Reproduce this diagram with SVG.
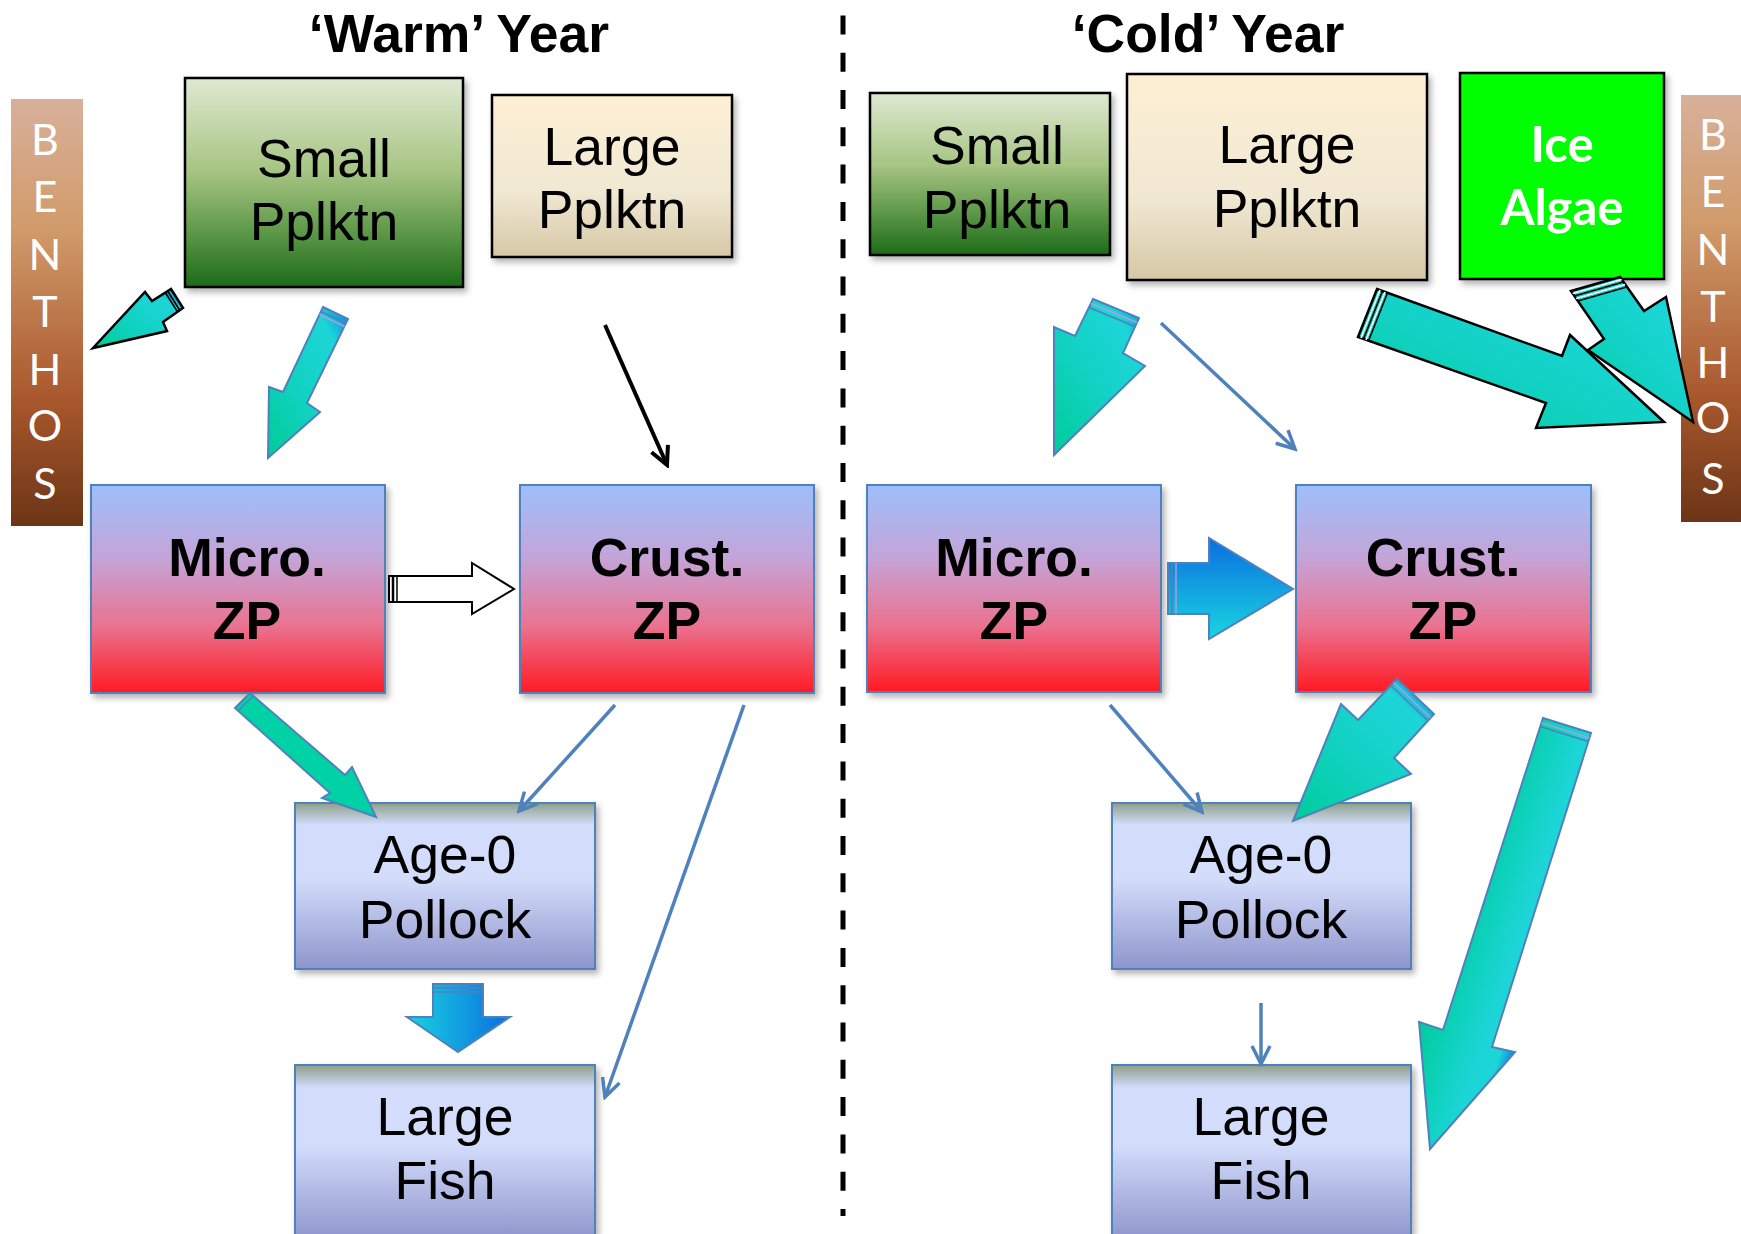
<svg xmlns="http://www.w3.org/2000/svg" width="1741" height="1234" viewBox="0 0 1741 1234">
<style>
.t{font-family:"Liberation Sans",Arial,sans-serif;font-size:53.5px;fill:#000;text-anchor:middle}
.b{font-weight:bold}
.title{font-family:"Liberation Sans",Arial,sans-serif;font-size:53.5px;font-weight:bold;text-anchor:middle;fill:#000}
.ben{font-family:Lato,"Open Sans",sans-serif;font-size:43px;fill:#fff;text-anchor:middle}
.ice{font-family:Lato,"Open Sans",sans-serif;font-size:49px;font-weight:bold;fill:#fff;text-anchor:middle}
.bk{stroke:#000;stroke-width:2.5}
.bl{stroke:#4f81bd;stroke-width:2}
.thin{fill:none;stroke:#4f81bd;stroke-width:3.5}
.arrB{stroke:#4f81bd;stroke-width:2;stroke-linejoin:miter}
.arrK{stroke:#000;stroke-width:2.5;stroke-linejoin:miter}
.stw{stroke:#fff;stroke-width:1.6}
.stk{stroke:#000;stroke-width:1.6}
.stb{stroke:#4f81bd;stroke-width:1.6}
.stp{stroke:#b0a0d8;stroke-width:1.4}
</style>
<defs>
<linearGradient id="smallG" x1="0" y1="0" x2="0" y2="1">
<stop offset="0" stop-color="#dfe9d2"/><stop offset="0.45" stop-color="#a6c482"/><stop offset="0.75" stop-color="#5a9646"/><stop offset="1" stop-color="#1c6b18"/>
</linearGradient>
<linearGradient id="largeG" x1="0" y1="0" x2="0" y2="1">
<stop offset="0" stop-color="#fdefd4"/><stop offset="0.6" stop-color="#f1e8d3"/><stop offset="1" stop-color="#d6c8a5"/>
</linearGradient>
<linearGradient id="zpG" x1="0" y1="0" x2="0" y2="1">
<stop offset="0" stop-color="#9dbffb"/><stop offset="0.35" stop-color="#c4a4d8"/><stop offset="0.68" stop-color="#ea7290"/><stop offset="1" stop-color="#ff1a22"/>
</linearGradient>
<linearGradient id="fishG" x1="0" y1="0" x2="0" y2="1">
<stop offset="0" stop-color="#8e9f88"/><stop offset="0.13" stop-color="#d2dcfb"/><stop offset="0.45" stop-color="#d3ddfb"/><stop offset="1" stop-color="#8f95cc"/>
</linearGradient>
<linearGradient id="benG" x1="0" y1="0" x2="0" y2="1">
<stop offset="0" stop-color="#d8b09a"/><stop offset="0.3" stop-color="#d19b6b"/><stop offset="0.7" stop-color="#a9582d"/><stop offset="1" stop-color="#6c3516"/>
</linearGradient>
<linearGradient id="cyG" x1="0" y1="1" x2="1" y2="0">
<stop offset="0" stop-color="#00cc99"/><stop offset="0.45" stop-color="#12d2c4"/><stop offset="0.8" stop-color="#1dd5d8"/><stop offset="1" stop-color="#0a80e0"/>
</linearGradient>
<linearGradient id="cyLong" gradientUnits="userSpaceOnUse" x1="1419" y1="1022" x2="1515" y2="1053">
<stop offset="0" stop-color="#00cc99"/><stop offset="0.4" stop-color="#10d2c0"/><stop offset="0.7" stop-color="#1dd5d8"/><stop offset="0.86" stop-color="#1dd5d8"/><stop offset="1" stop-color="#0a80e0"/>
</linearGradient>
<linearGradient id="blueH" x1="0" y1="0" x2="1" y2="0">
<stop offset="0" stop-color="#1ad2e0"/><stop offset="1" stop-color="#0a6ee0"/>
</linearGradient>
<linearGradient id="blueV" x1="0" y1="0" x2="0" y2="1">
<stop offset="0" stop-color="#0a6ee0"/><stop offset="1" stop-color="#1ad5e0"/>
</linearGradient>
<filter id="sh" x="-10%" y="-10%" width="130%" height="130%">
<feDropShadow dx="3" dy="4" stdDeviation="3" flood-color="#000" flood-opacity="0.3"/>
</filter>
<marker id="ahBlue" markerUnits="userSpaceOnUse" viewBox="0 0 24 24" markerWidth="24" markerHeight="24" refX="21" refY="12" orient="auto">
<path d="M3,3 L21,12 L3,21" fill="none" stroke="#4f81bd" stroke-width="3.5"/>
</marker>
<marker id="ahBlack" markerUnits="userSpaceOnUse" viewBox="0 0 24 24" markerWidth="24" markerHeight="24" refX="21" refY="12" orient="auto">
<path d="M3,3 L21,12 L3,21" fill="none" stroke="#000" stroke-width="4"/>
</marker>
</defs>
<rect width="1741" height="1234" fill="#fff"/>

<g id="titles">
<text class="title" x="459" y="52">‘Warm’ Year</text>
<text class="title" x="1208" y="52">‘Cold’ Year</text>
</g>

<line id="divider" x1="843" y1="0" x2="843" y2="1216" stroke="#000" stroke-width="5" stroke-dasharray="19 18.3" stroke-dashoffset="21.9"/>

<g id="warm-benthos">
<rect x="11" y="99" width="72" height="427" fill="url(#benG)"/>
<text class="ben" x="45" y="155">B</text><text class="ben" x="45" y="212">E</text><text class="ben" x="45" y="270">N</text><text class="ben" x="45" y="327">T</text><text class="ben" x="45" y="385">H</text><text class="ben" x="45" y="441">O</text><text class="ben" x="45" y="499">S</text>
</g>
<g id="warm-small-pplktn" filter="url(#sh)">
<rect x="185" y="78" width="278" height="209" fill="url(#smallG)" class="bk"/>
<text class="t" x="324" y="177">Small</text><text class="t" x="324" y="240">Pplktn</text>
</g>
<g id="warm-large-pplktn" filter="url(#sh)">
<rect x="492" y="95" width="240" height="162" fill="url(#largeG)" class="bk"/>
<text class="t" x="612" y="165">Large</text><text class="t" x="612" y="228">Pplktn</text>
</g>
<g id="warm-micro-zp" filter="url(#sh)">
<rect x="91" y="485" width="294" height="208" fill="url(#zpG)" class="bl"/>
<text class="t b" x="247" y="576">Micro.</text><text class="t b" x="247" y="639">ZP</text>
</g>
<g id="warm-crust-zp" filter="url(#sh)">
<rect x="520" y="485" width="294" height="208" fill="url(#zpG)" class="bl"/>
<text class="t b" x="667" y="576">Crust.</text><text class="t b" x="667" y="639">ZP</text>
</g>
<g id="warm-age0-pollock" filter="url(#sh)">
<rect x="295" y="803" width="300" height="166" fill="url(#fishG)" class="bl"/>
<text class="t" x="445" y="873">Age-0</text><text class="t" x="445" y="938">Pollock</text>
</g>
<g id="warm-large-fish" filter="url(#sh)">
<rect x="295" y="1065" width="300" height="175" fill="url(#fishG)" class="bl"/>
<text class="t" x="445" y="1135">Large</text><text class="t" x="445" y="1199">Fish</text>
</g>

<g id="cold-small-pplktn" filter="url(#sh)">
<rect x="870" y="93" width="240" height="162" fill="url(#smallG)" class="bk"/>
<text class="t" x="997" y="164">Small</text><text class="t" x="997" y="228">Pplktn</text>
</g>
<g id="cold-large-pplktn" filter="url(#sh)">
<rect x="1127" y="74" width="300" height="206" fill="url(#largeG)" class="bk"/>
<text class="t" x="1287" y="163">Large</text><text class="t" x="1287" y="227">Pplktn</text>
</g>
<g id="cold-ice-algae" filter="url(#sh)">
<rect x="1460" y="73" width="204" height="206" fill="#00ff00" class="bk"/>
<text class="ice" x="1562" y="162">Ice</text><text class="ice" x="1562" y="225">Algae</text>
</g>
<g id="cold-benthos">
<rect x="1681" y="95" width="60" height="427" fill="url(#benG)"/>
<text class="ben" x="1713" y="150">B</text><text class="ben" x="1713" y="207">E</text><text class="ben" x="1713" y="265">N</text><text class="ben" x="1713" y="322">T</text><text class="ben" x="1713" y="378">H</text><text class="ben" x="1713" y="433">O</text><text class="ben" x="1713" y="494">S</text>
</g>
<g id="cold-micro-zp" filter="url(#sh)">
<rect x="867" y="485" width="294" height="207" fill="url(#zpG)" class="bl"/>
<text class="t b" x="1014" y="576">Micro.</text><text class="t b" x="1014" y="639">ZP</text>
</g>
<g id="cold-crust-zp" filter="url(#sh)">
<rect x="1296" y="485" width="295" height="207" fill="url(#zpG)" class="bl"/>
<text class="t b" x="1443" y="576">Crust.</text><text class="t b" x="1443" y="639">ZP</text>
</g>
<g id="cold-age0-pollock" filter="url(#sh)">
<rect x="1112" y="803" width="299" height="166" fill="url(#fishG)" class="bl"/>
<text class="t" x="1261" y="873">Age-0</text><text class="t" x="1261" y="938">Pollock</text>
</g>
<g id="cold-large-fish" filter="url(#sh)">
<rect x="1112" y="1065" width="299" height="175" fill="url(#fishG)" class="bl"/>
<text class="t" x="1261" y="1135">Large</text><text class="t" x="1261" y="1199">Fish</text>
</g>

<g id="connectors">
<!-- warm: small pplktn -> benthos -->
<polygon points="93,348 145,292 152,301 171,289 183,308 163,322 167,331" fill="url(#cyG)" class="arrK"/>
<line x1="167.6" y1="291" x2="179.6" y2="310" class="stk" stroke-width="2"/>
<line x1="165.3" y1="292.5" x2="177.3" y2="311.5" class="stk" stroke-width="2"/>
<!-- warm: small pplktn -> micro zp -->
<polygon points="323,307 348,319 307,403 320,412 268,458 269,387 283,392" fill="url(#cyG)" class="arrB"/>
<line x1="321" y1="311.5" x2="346" y2="323.5" class="stb"/>
<line x1="319.6" y1="314.5" x2="344.6" y2="326.5" class="stp"/>
<!-- warm: large pplktn -> crust zp -->
<line x1="605" y1="325" x2="667" y2="465" stroke="#000" stroke-width="4" marker-end="url(#ahBlack)"/>
<!-- warm: micro -> crust (hollow) -->
<polygon points="389,576 472,576 472,563 514,589 472,614 472,602 389,602" fill="#fff" stroke="#000" stroke-width="2"/>
<line x1="393" y1="576" x2="393" y2="602" stroke="#000" stroke-width="2.5"/>
<line x1="397" y1="576" x2="397" y2="602" stroke="#000" stroke-width="1.5"/>
<!-- warm: micro -> age0 -->
<polygon points="235,708 250,693 345,775 352,767 376,817 322,798 330,793" fill="#00d2a6" class="arrB"/>
<line x1="238" y1="711" x2="253" y2="696" class="stb"/>
<!-- warm: crust -> age0 -->
<line x1="615" y1="705" x2="519" y2="811" class="thin" marker-end="url(#ahBlue)"/>
<!-- warm: crust -> large fish -->
<line x1="744" y1="705" x2="605" y2="1097" class="thin" marker-end="url(#ahBlue)"/>
<!-- warm: age0 -> large fish -->
<polygon points="433,984 483,984 483,1017 510,1017 458,1052 407,1017 433,1017" fill="url(#blueH)" class="arrB"/>
<line x1="433" y1="988" x2="483" y2="988" class="stb"/>
<line x1="433" y1="992" x2="483" y2="992" class="stb"/>

<!-- cold: small pplktn -> micro zp -->
<polygon points="1093,299 1139,318 1123,353 1145,366 1054,455 1054,327 1075,336" fill="url(#cyG)" class="arrB"/>
<line x1="1091" y1="303.5" x2="1137" y2="322.5" class="stp"/>
<line x1="1089" y1="307.5" x2="1135" y2="326.5" class="stb"/>
<!-- cold: large pplktn -> crust zp -->
<line x1="1161" y1="323" x2="1295" y2="449" class="thin" marker-end="url(#ahBlue)"/>
<!-- cold: large pplktn -> benthos -->
<polygon points="1377,289 1562,356 1570,335 1664,422 1536,428 1546,403 1358,337" fill="url(#cyG)" class="arrK"/>
<line x1="1380" y1="290" x2="1361" y2="338" class="stw" stroke-width="2"/>
<line x1="1382.5" y1="291" x2="1363.5" y2="339" class="stk"/>
<line x1="1385" y1="292" x2="1366" y2="340" class="stw" stroke-width="2"/>
<line x1="1387.5" y1="293" x2="1368.5" y2="341" class="stk"/>
<!-- cold: ice algae -> benthos -->
<polygon points="1571,291 1620,277 1644,311 1666,297 1693,422 1588,350 1604,339" fill="url(#cyG)" class="arrK"/>
<line x1="1572.7" y1="293.5" x2="1621.7" y2="279.5" class="stw" stroke-width="2"/>
<line x1="1574.4" y1="296" x2="1623.4" y2="282" class="stk"/>
<line x1="1576.1" y1="298.5" x2="1625.1" y2="284.5" class="stw" stroke-width="2"/>
<line x1="1577.8" y1="301" x2="1626.8" y2="287" class="stk"/>
<!-- cold: micro -> crust -->
<polygon points="1168,563 1209,563 1209,538 1293,589 1209,639 1209,614 1168,614" fill="url(#blueV)" class="arrB"/>
<line x1="1172" y1="563" x2="1172" y2="614" class="stb"/>
<line x1="1176" y1="563" x2="1176" y2="614" class="stp"/>
<!-- cold: micro -> age0 -->
<line x1="1110" y1="705" x2="1202" y2="812" class="thin" marker-end="url(#ahBlue)"/>
<!-- cold: crust -> age0 -->
<polygon points="1397,679 1434,714 1394,758 1411,774 1293,821 1341,704 1358,720" fill="url(#cyG)" class="arrB"/>
<line x1="1393.5" y1="682.6" x2="1430.5" y2="717.6" class="stp"/>
<line x1="1390.7" y1="685.5" x2="1427.7" y2="720.5" class="stb"/>
<!-- cold: crust -> large fish -->
<polygon points="1543,718 1591,733 1492,1047 1515,1052 1430,1149 1419,1022 1443,1030" fill="url(#cyLong)" class="arrB"/>
<line x1="1541.5" y1="722.8" x2="1589.5" y2="737.8" class="stp"/>
<line x1="1540.3" y1="726.6" x2="1588.3" y2="741.6" class="stb"/>
<!-- cold: age0 -> large fish -->
<line x1="1261" y1="1003" x2="1261" y2="1064" class="thin" marker-end="url(#ahBlue)"/>
</g>
</svg>
